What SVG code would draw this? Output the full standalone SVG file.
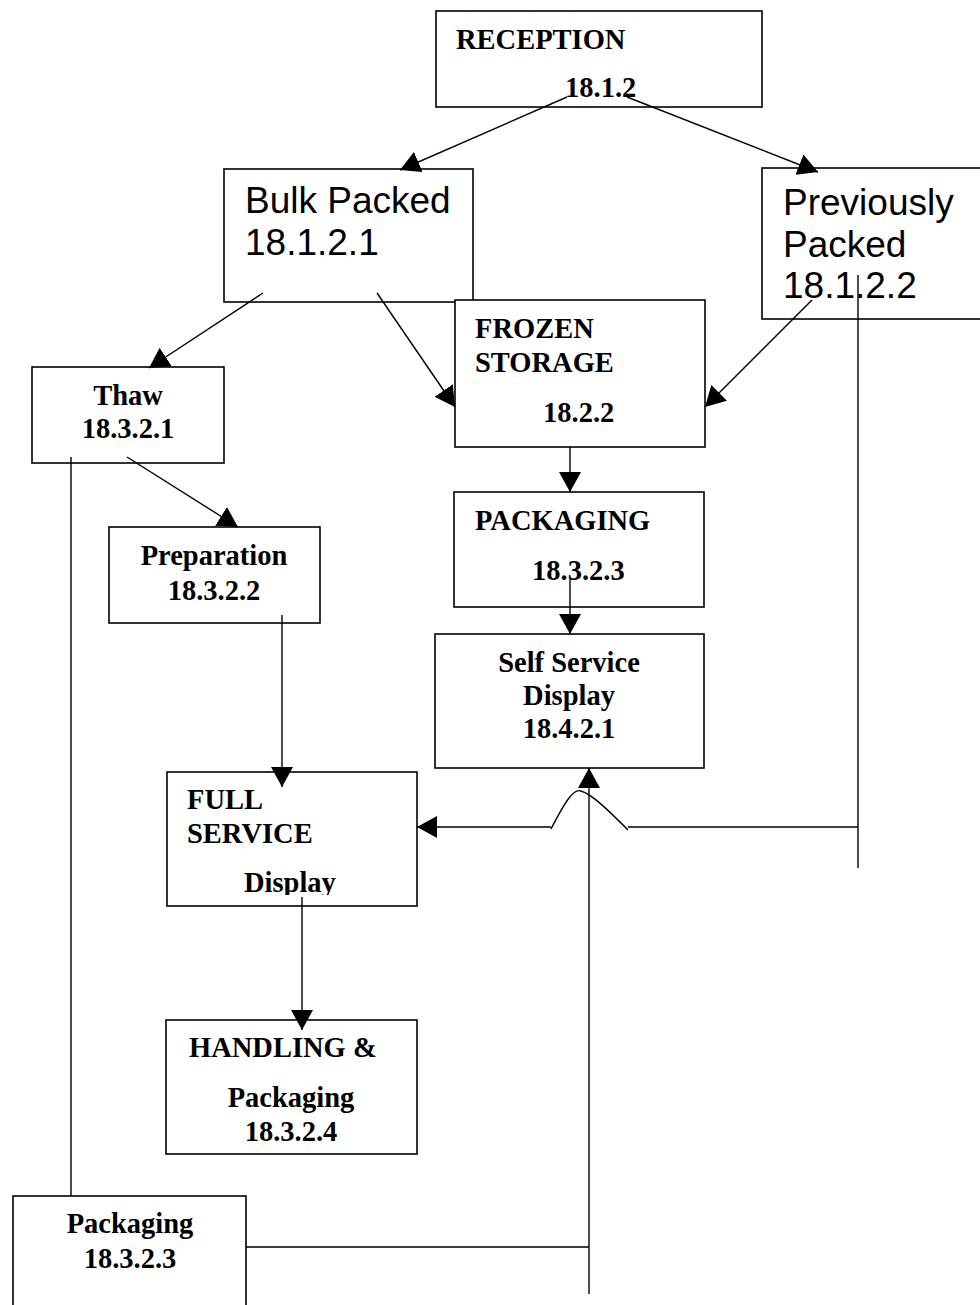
<svg xmlns="http://www.w3.org/2000/svg" width="980" height="1305" viewBox="0 0 980 1305">
<defs>
<style>
.box{fill:#fff;stroke:#000;stroke-width:1.6}
.t{font-family:"Liberation Serif","Times New Roman",serif;font-weight:bold;font-size:28.5px;fill:#000}
.c{text-anchor:middle}
.s{font-family:"Liberation Sans",Arial,sans-serif;font-size:37px;fill:#000}
.ln{fill:none;stroke:#000;stroke-width:1.4}
</style>
<marker id="ah" viewBox="0 0 20 22" refX="20" refY="11" markerWidth="20" markerHeight="22" markerUnits="userSpaceOnUse" orient="auto">
<path d="M0,0 L20,11 L0,22 Z" fill="#000"/>
</marker>
<clipPath id="fsclip"><rect x="167" y="772" width="250" height="123"/></clipPath>
</defs>
<rect width="980" height="1305" fill="#fff"/>
<g id="reception"><rect class="box" x="436" y="11" width="326" height="96"/><text class="t" x="456" y="49">RECEPTION</text><text class="t" x="565" y="97">18.1.2</text></g>
<g id="bulk"><rect class="box" x="224" y="169" width="249" height="133"/><text class="s" x="245" y="213">Bulk Packed</text><text class="s" x="245" y="255">18.1.2.1</text></g>
<g id="previously"><rect class="box" x="762" y="168" width="230" height="151"/><text class="s" x="783" y="215">Previously</text><text class="s" x="783" y="257">Packed</text><text class="s" x="783" y="298">18.1.2.2</text></g>
<g id="frozen"><rect class="box" x="455" y="300" width="250" height="147"/><text class="t" x="475" y="338">FROZEN</text><text class="t" x="475" y="372">STORAGE</text><text class="t" x="543" y="422">18.2.2</text></g>
<g id="thaw"><rect class="box" x="32" y="367" width="192" height="96"/><text class="t c" x="128" y="405">Thaw</text><text class="t c" x="128" y="438">18.3.2.1</text></g>
<g id="preparation"><rect class="box" x="109" y="527" width="211" height="96"/><text class="t c" x="214" y="565">Preparation</text><text class="t c" x="214" y="600">18.3.2.2</text></g>
<g id="packaging1"><rect class="box" x="454" y="492" width="250" height="115"/><text class="t" x="475" y="530">PACKAGING</text><text class="t" x="532" y="580">18.3.2.3</text></g>
<g id="selfservice"><rect class="box" x="435" y="634" width="269" height="134"/><text class="t c" x="569" y="672">Self Service</text><text class="t c" x="569" y="705">Display</text><text class="t c" x="569" y="738">18.4.2.1</text></g>
<g id="fullservice"><rect class="box" x="167" y="772" width="250" height="134"/><text class="t" x="187" y="809">FULL</text><text class="t" x="187" y="843">SERVICE</text><text class="t" x="244" y="892" clip-path="url(#fsclip)">Display</text></g>
<g id="handling"><rect class="box" x="166" y="1020" width="251" height="134"/><text class="t" x="189" y="1057">HANDLING &amp;</text><text class="t c" x="291" y="1107">Packaging</text><text class="t c" x="291" y="1141">18.3.2.4</text></g>
<g id="packaging2"><rect class="box" x="13" y="1196" width="233" height="130"/><text class="t c" x="130" y="1233">Packaging</text><text class="t c" x="130" y="1268">18.3.2.3</text></g>
<g id="connectors">
<line class="ln" x1="567" y1="97" x2="400" y2="170" marker-end="url(#ah)"/>
<line class="ln" x1="627" y1="97" x2="818" y2="172" marker-end="url(#ah)"/>
<line class="ln" x1="263" y1="293" x2="149" y2="368" marker-end="url(#ah)"/>
<line class="ln" x1="377" y1="293" x2="455" y2="407" marker-end="url(#ah)"/>
<line class="ln" x1="812" y1="300" x2="705" y2="407" marker-end="url(#ah)"/>
<line class="ln" x1="570" y1="447" x2="570" y2="492" marker-end="url(#ah)"/>
<line class="ln" x1="570" y1="580" x2="570" y2="634" marker-end="url(#ah)"/>
<line class="ln" x1="127" y1="457" x2="238" y2="527" marker-end="url(#ah)"/>
<line class="ln" x1="282" y1="615" x2="282" y2="787" marker-end="url(#ah)"/>
<line class="ln" x1="302" y1="897" x2="302" y2="1030" marker-end="url(#ah)"/>
<line class="ln" x1="71" y1="457" x2="71" y2="1196"/>
<line class="ln" x1="246" y1="1247" x2="589" y2="1247"/>
<line class="ln" x1="589" y1="1294" x2="589" y2="768" marker-end="url(#ah)"/>
<line class="ln" x1="858" y1="275" x2="858" y2="868"/>
<line class="ln" x1="858" y1="827" x2="628" y2="827"/>
<path class="ln" d="M628,830 C610,812 592,794 581,791 C574,788 566,800 551,829"/>
<line class="ln" x1="551" y1="827" x2="417" y2="827" marker-end="url(#ah)"/>
</g>
</svg>
